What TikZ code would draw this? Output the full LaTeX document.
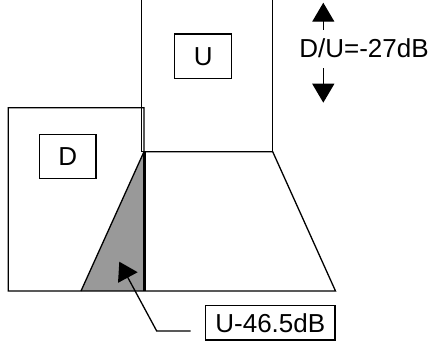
\documentclass[tikz,border=0pt]{standalone}
\usepackage{fontspec}
\setmainfont{Liberation Sans}
\usetikzlibrary{arrows.meta}
\begin{document}
\begin{tikzpicture}[x=1pt,y=1pt,
  thin line/.style={line width=1.3pt},
  labelbox/.style={draw,line width=1.3pt,inner sep=0pt,font=\fontsize{26}{30}\selectfont},
  bigarrow/.style={line width=1.3pt,-{Triangle[length=19pt,width=22pt]}}]
\useasboundingbox (0,0) rectangle (432,343);
% coverage of the two transmitters
\fill[fill=black!40] (144,191.3) -- (81,52) -- (144,52) -- cycle;
\draw[thin line] (144,191.3) -- (81,52);
\draw[thin line] (141.7,345) -- (141.7,191.3) -- (272.7,191.3) -- (272.7,345);
\draw[thin line] (144,191.3) -- (272.7,191.3) -- (335.5,52) -- (8.3,52) -- (8.3,235.3) -- (144,235.3) -- (144,191.3);
\draw[line width=3pt] (144,52) -- (144,191.3);
% labels
\node[labelbox,minimum width=57pt,minimum height=44.3pt] (u) at (203.2,286.8) {U};
\node[labelbox,minimum width=56.7pt,minimum height=44pt] (d) at (67.7,186.3) {D};
\node[labelbox,minimum width=129.3pt,minimum height=34.3pt] (lvl) at (270.3,20.2) {U-46.5dB};
\node[font=\fontsize{26}{30}\selectfont,inner sep=0pt] (ratio) at (364,295) {D/U=-27dB};
% leader from the level box into the shaded zone
\coordinate (lead0) at (190.7,12);
\coordinate (lead1) at (156.7,12);
\coordinate (tip) at (119.3,81.3);
\draw[thin line,-{Triangle[length=18pt,width=22pt]}] (lead0) -- (lead1) -- (tip);
% ratio arrows
\coordinate (upA) at (323.3,313);
\coordinate (upB) at (323.3,340.3);
\coordinate (dnA) at (323.3,274.7);
\coordinate (dnB) at (323.3,240.3);
\draw[bigarrow] (upA) -- (upB);
\draw[bigarrow] (dnA) -- (dnB);
\end{tikzpicture}
\end{document}
